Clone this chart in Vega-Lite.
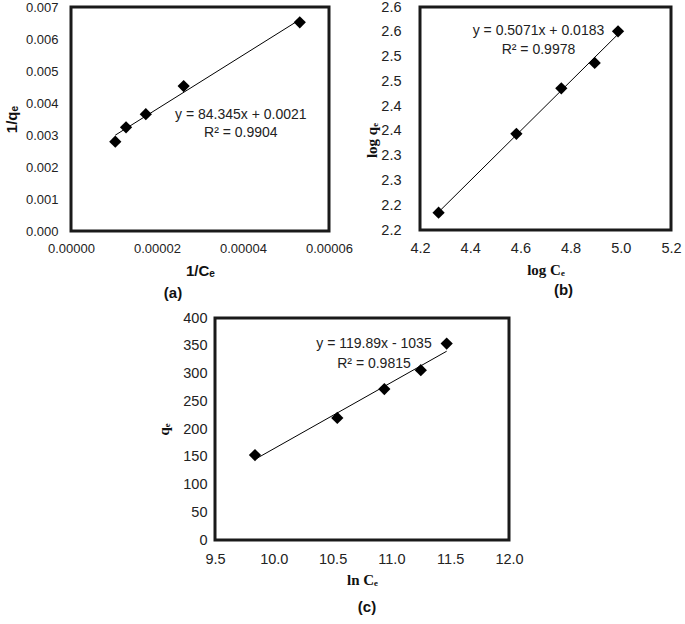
{
  "$schema": "https://vega.github.io/schema/vega-lite/v6.json",
  "background": "white",
  "padding": {"left": 2, "top": -3, "right": 0, "bottom": 0},
  "spacing": 5,
  "config": {
    "view": {"stroke": "#1a1a1a", "strokeWidth": 3},
    "axis": {"grid": false, "ticks": false, "domain": false, "labelFont": "Liberation Sans", "labelFontSize": 13, "labelColor": "#222", "labelFlush": false, "labelOverlap": false, "titleColor": "#111", "titleFontSize": 15, "titleFontWeight": "bold"},
    "title": {"font": "Liberation Sans", "fontSize": 15, "fontWeight": "bold", "color": "#111", "orient": "bottom", "anchor": "middle", "frame": "group"}
  },
  "datasets": {
    "a": [
      {"x": 0.0000103, "y": 0.00279},
      {"x": 0.0000128, "y": 0.00324},
      {"x": 0.0000174, "y": 0.00365},
      {"x": 0.0000262, "y": 0.00453},
      {"x": 0.0000532, "y": 0.00652}
    ],
    "a_eq": [
      {"x": 0.0000395, "y": 0.00363, "label": "y = 84.345x + 0.0021"},
      {"x": 0.0000395, "y": 0.00307, "label": "R² = 0.9904"}
    ],
    "b": [
      {"x": 4.274, "y": 2.185},
      {"x": 4.584, "y": 2.344},
      {"x": 4.763, "y": 2.436},
      {"x": 4.896, "y": 2.487},
      {"x": 4.989, "y": 2.551}
    ],
    "b_eq": [
      {"x": 4.672, "y": 2.551, "label": "y = 0.5071x + 0.0183"},
      {"x": 4.672, "y": 2.5125, "label": "R² = 0.9978"}
    ],
    "c": [
      {"x": 9.84, "y": 153},
      {"x": 10.54, "y": 220},
      {"x": 10.94, "y": 272},
      {"x": 11.25, "y": 306},
      {"x": 11.47, "y": 354}
    ],
    "c_eq": [
      {"x": 10.852, "y": 354, "label": "y = 119.89x - 1035"},
      {"x": 10.852, "y": 318, "label": "R² = 0.9815"}
    ]
  },
  "vconcat": [
    {
      "bounds": "flush",
      "spacing": 91,
      "hconcat": [
        {
          "width": 258,
          "height": 224,
          "view": {"stroke": "#1a1a1a", "strokeWidth": 3},
          "title": {"text": "(a)", "dx": -27, "offset": 8},
          "encoding": {
            "x": {"field": "x", "type": "quantitative", "scale": {"domain": [0, 0.00006], "nice": false, "zero": false},
              "axis": {"values": [0, 0.00002, 0.00004, 0.00006], "format": ".5f", "title": "1/Cₑ", "titleFont": "Liberation Sans", "labelPadding": 11, "titlePadding": 8}},
            "y": {"field": "y", "type": "quantitative", "scale": {"domain": [0, 0.007], "nice": false, "zero": false},
              "axis": {"values": [0, 0.001, 0.002, 0.003, 0.004, 0.005, 0.006, 0.007], "format": ".3f", "title": "1/qₑ", "titleFont": "Liberation Sans", "labelPadding": 13, "titlePadding": 6}}
          },
          "layer": [
            {"data": {"name": "a"}, "transform": [{"regression": "y", "on": "x"}], "mark": {"type": "line", "color": "#000", "strokeWidth": 1}},
            {"data": {"name": "a"}, "mark": {"type": "point", "shape": "diamond", "filled": true, "color": "#000", "opacity": 1, "size": 150}},
            {"data": {"name": "a_eq"}, "mark": {"type": "text", "font": "Liberation Sans", "fontSize": 14, "color": "#222"}, "encoding": {"text": {"field": "label"}}}
          ]
        },
        {
          "width": 251,
          "height": 223,
          "view": {"stroke": "#1a1a1a", "strokeWidth": 3},
          "title": {"text": "(b)", "dx": 18, "offset": 5},
          "encoding": {
            "x": {"field": "x", "type": "quantitative", "scale": {"domain": [4.2, 5.2], "nice": false, "zero": false},
              "axis": {"values": [4.2, 4.4, 4.6, 4.8, 5.0, 5.2], "format": ".1f", "title": "log Cₑ", "titleFont": "Liberation Serif", "labelFontSize": 14.5, "labelPadding": 11, "titlePadding": 8}},
            "y": {"field": "y", "type": "quantitative", "scale": {"domain": [2.15, 2.6], "nice": false, "zero": false},
              "axis": {"values": [2.15, 2.2, 2.25, 2.3, 2.35, 2.4, 2.45, 2.5, 2.55, 2.6], "labelExpr": "format(datum.value + 0.0001, '.1f')", "title": "log qₑ", "titleFont": "Liberation Serif", "labelFontSize": 14.5, "labelPadding": 19, "titlePadding": 1, "titleY": 133}}
          },
          "layer": [
            {"data": {"name": "b"}, "transform": [{"regression": "y", "on": "x"}], "mark": {"type": "line", "color": "#000", "strokeWidth": 1}},
            {"data": {"name": "b"}, "mark": {"type": "point", "shape": "diamond", "filled": true, "color": "#000", "opacity": 1, "size": 150}},
            {"data": {"name": "b_eq"}, "mark": {"type": "text", "font": "Liberation Sans", "fontSize": 14, "color": "#222"}, "encoding": {"text": {"field": "label"}}}
          ]
        }
      ]
    },
    {
      "bounds": "flush",
      "spacing": 143,
      "hconcat": [
        {"width": 1, "height": 10, "data": {"values": []}, "mark": "point", "view": {"stroke": null}},
        {
          "width": 294,
          "height": 222,
          "view": {"stroke": "#1a1a1a", "strokeWidth": 3},
          "title": {"text": "(c)", "dx": 5, "offset": 12},
          "encoding": {
            "x": {"field": "x", "type": "quantitative", "scale": {"domain": [9.5, 12], "nice": false, "zero": false},
              "axis": {"values": [9.5, 10, 10.5, 11, 11.5, 12], "format": ".1f", "title": "ln Cₑ", "titleFont": "Liberation Serif", "labelFontSize": 14.5, "labelPadding": 12, "titlePadding": 7}},
            "y": {"field": "y", "type": "quantitative", "scale": {"domain": [0, 400], "nice": false, "zero": false},
              "axis": {"values": [0, 50, 100, 150, 200, 250, 300, 350, 400], "format": "d", "title": "qₑ", "titleFont": "Liberation Serif", "labelFontSize": 14.5, "labelPadding": 8, "titlePadding": 11}}
          },
          "layer": [
            {"data": {"name": "c"}, "transform": [{"regression": "y", "on": "x"}], "mark": {"type": "line", "color": "#000", "strokeWidth": 1}},
            {"data": {"name": "c"}, "mark": {"type": "point", "shape": "diamond", "filled": true, "color": "#000", "opacity": 1, "size": 150}},
            {"data": {"name": "c_eq"}, "mark": {"type": "text", "font": "Liberation Sans", "fontSize": 14, "color": "#222"}, "encoding": {"text": {"field": "label"}}}
          ]
        }
      ]
    }
  ]
}
